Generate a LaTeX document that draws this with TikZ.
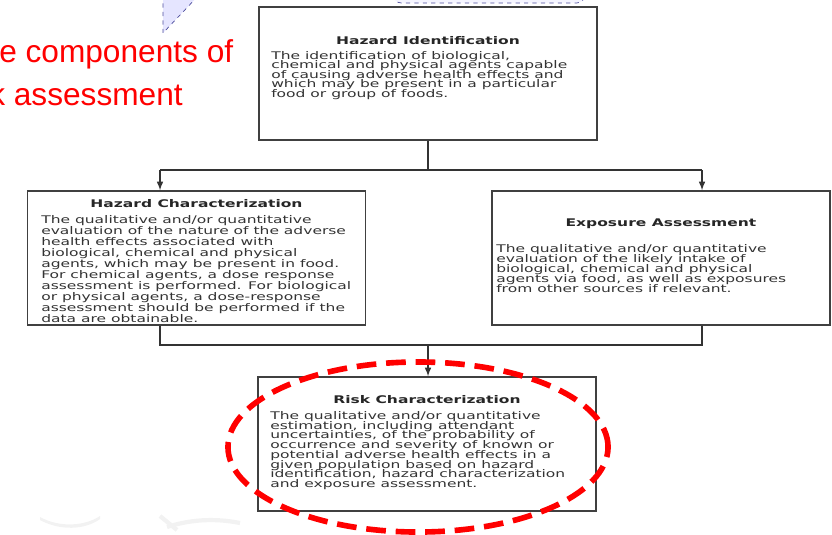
\documentclass[tikz,border=0pt]{standalone}
\usepackage{fontspec}
\setmainfont{DejaVu Sans}
\newfontfamily\boxfont[FakeStretch=1.47]{DejaVu Sans}
\newfontfamily\slidefont{Liberation Sans}
\newcommand\boxbody[1]{\boxfont\fontsize{7.5}{#1}\selectfont\lineskiplimit=-10pt\relax}
\usetikzlibrary{positioning}

\begin{document}
\begin{tikzpicture}[x=0.025cm, y=-0.025cm,
        stepbox/.style={rectangle, draw=black!75, line width=1pt, fill=white, minimum width=8.45cm, minimum height=3.35cm, inner sep=0pt},
        title/.style={anchor=base, inner sep=0pt, font=\boxfont\fontsize{7.5}{8}\selectfont\bfseries, text=black!85},
        body/.style={anchor=north west, inner sep=0pt, align=left, text=black!80},
        link/.style={draw=black!80, line width=1.1pt},
        arrow/.style={->, draw=black!80, line width=1.1pt, >=latex},
        redtext/.style={anchor=base west, inner sep=0pt, text=red, font=\slidefont\fontsize{22.5}{27}\selectfont},
        callout/.style={draw=blue!45!black!70, dashed, line width=0.5pt, fill=blue!10!white}
    ]
        \useasboundingbox (0,0) rectangle (832,534);

        % Slide leftovers
        \fill[black!5] (40,517) .. controls (60,528) and (85,526) .. (100,516) -- (100,519) .. controls (85,530) and (60,531) .. (40,520) -- cycle;
        \draw[black!5, line width=3pt] (160,516) -- (177,530);
        \draw[black!5, line width=3pt] (167,527) .. controls (195,518) and (220,519) .. (240,523);
        \draw[callout] (163,-5) -- (163,33) -- (199,-5);
        \draw[callout, fill=blue!4, rounded corners=6pt] (393,-30) rectangle (585,3);
        \node[redtext] (head1) at (-1,62) {e components of};
        \node[redtext] (head2) at (-11,105) {k assessment};

        % Boxes
        \node[stepbox, minimum height=3.325cm] (hi) at (428,73.5) {};
        \node[stepbox] (hc) at (196.5,258) {};
        \node[stepbox] (ea) at (661,258) {};
        \node[stepbox] (rc) at (427,444) {};

        % Hazard identification
        \node[title] (hiT) at (428,44) {Hazard Identification};
        \node[body, font=\boxbody{6.8}] (hiB) at (271,51) {The identification of biological,\\chemical and physical agents capable\\of causing adverse health effects and\\which may be present in a particular\\food or group of foods.};

        % Hazard characterization
        \node[title] (hcT) at (196.5,207) {Hazard Characterization};
        \node[body, font=\boxbody{7.87}] (hcB) at (41,215) {The qualitative and/or quantitative\\evaluation of the nature of the adverse\\health effects associated with\\biological, chemical and physical\\agents, which may be present in food.\\For chemical agents, a dose response\\assessment is performed. For biological\\or physical agents, a dose-response\\assessment should be performed if the\\data are obtainable.};

        % Exposure assessment
        \node[title] (eaT) at (661,226) {Exposure Assessment};
        \node[body, font=\boxbody{7.09}] (eaB) at (496,244) {The qualitative and/or quantitative\\evaluation of the likely intake of\\biological, chemical and physical\\agents via food, as well as exposures\\from other sources if relevant.};

        % Risk characterization
        \node[title] (rcT) at (427,403) {Risk Characterization};
        \node[body, font=\boxbody{6.95}] (rcB) at (270,411) {The qualitative and/or quantitative\\estimation, including attendant\\uncertainties, of the probability of\\occurrence and severity of known or\\potential adverse health effects in a\\given population based on hazard\\identification, hazard characterization\\and exposure assessment.};

        % Connectors
        \coordinate (jt) at (428,170);
        \coordinate (jl) at (160,170);
        \coordinate (jr) at (702,170);
        \coordinate (jlb) at (160,345);
        \coordinate (jrb) at (702,345);
        \coordinate (jmb) at (428,345);
        \draw[link, line width=2pt] (hi.south) -- (jt);
        \draw[link] (jl) -- (jr);
        \draw[arrow] (jl) -- (jl |- hc.north);
        \draw[arrow] (jr) -- (jr |- ea.north);
        \draw[link] (jl |- hc.south) -- (jlb) -- (jrb) -- (jr |- ea.south);
        \draw[arrow] (jmb) -- (jmb |- rc.north);

        % Highlight
        \draw[red, line width=4pt, dash pattern=on 14pt off 7pt] (418,447) ellipse [x radius=4.75cm, y radius=2.125cm];

    \end{tikzpicture}
\end{document}
